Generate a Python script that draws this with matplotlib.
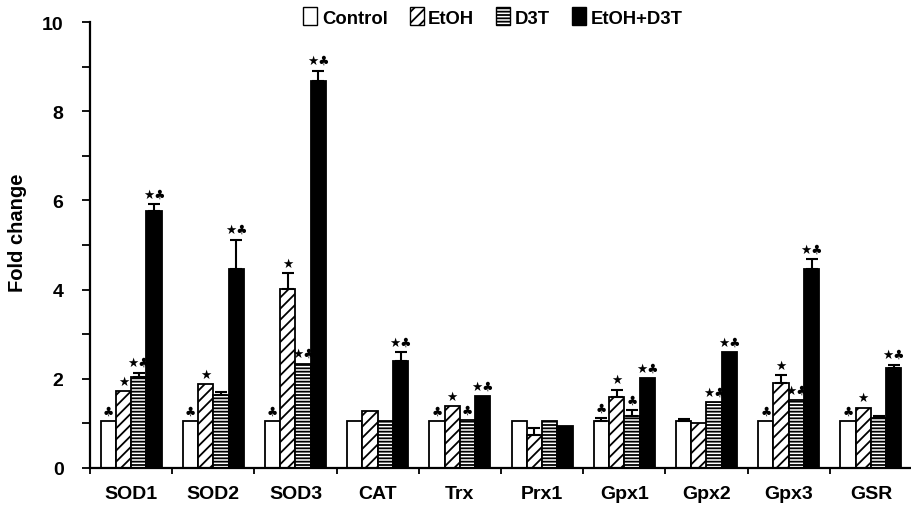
import matplotlib
matplotlib.use("Agg")
import matplotlib.pyplot as plt
import numpy as np
from matplotlib.patches import Patch

plt.rcParams['font.family'] = ['Liberation Sans', 'DejaVu Sans']
plt.rcParams['font.weight'] = 'bold'
plt.rcParams['hatch.linewidth'] = 1.3

categories = ["SOD1", "SOD2", "SOD3", "CAT", "Trx", "Prx1", "Gpx1", "Gpx2", "Gpx3", "GSR"]
series_names = ["Control", "EtOH", "D3T", "EtOH+D3T"]

control = [1.05, 1.05, 1.05, 1.05, 1.05, 1.05, 1.05, 1.05, 1.05, 1.05]
etoh = [1.72, 1.88, 4.02, 1.27, 1.39, 0.73, 1.59, 1.00, 1.91, 1.35]
d3t = [2.04, 1.63, 2.34, 1.05, 1.07, 1.05, 1.17, 1.48, 1.52, 1.12]
etoh_d3t = [5.77, 4.47, 8.67, 2.41, 1.61, 0.94, 2.02, 2.59, 4.47, 2.25]

control_err = [0, 0, 0, 0, 0, 0, 0.07, 0.05, 0, 0]
etoh_err = [0, 0, 0.35, 0, 0, 0.17, 0.17, 0, 0.17, 0]
d3t_err = [0.10, 0.08, 0, 0, 0, 0, 0.12, 0, 0, 0.04]
etoh_d3t_err = [0.14, 0.65, 0.24, 0.19, 0, 0, 0, 0, 0.21, 0.07]

control_sig = ["♣", "♣", "♣", "", "♣", "", "♣", "", "♣", "♣"]
etoh_sig = ["★", "★", "★", "", "★", "", "★", "", "★", "★"]
d3t_sig = ["★♣", "", "★♣", "", "♣", "", "♣", "★♣", "★♣", ""]
etoh_d3t_sig = ["★♣"] * 5 + [""] + ["★♣"] * 4

values = [control, etoh, d3t, etoh_d3t]
errors = [control_err, etoh_err, d3t_err, etoh_d3t_err]
sigs = [control_sig, etoh_sig, d3t_sig, etoh_d3t_sig]
faces = ["white", "white", "white", "black"]
hatches = [None, "///", "-----", None]

fig = plt.figure(figsize=(9.12, 5.06), dpi=100)
ax = fig.add_axes([90/912, 37/506, 1 - 90/912, (469-23)/506])

n = len(categories)
x = np.arange(n) + 0.5
w = 0.186
offsets = [-1.5*w, -0.5*w, 0.5*w, 1.5*w]

for vals, errs, sg, fc, ht, off in zip(values, errors, sigs, faces, hatches, offsets):
    xs = x + off
    ax.bar(xs, vals, width=w, facecolor=fc, edgecolor="black", linewidth=1.3,
           hatch=ht, zorder=2)
    errs = np.array(errs)
    m = errs > 0
    ax.errorbar(xs[m], np.array(vals)[m], yerr=[np.zeros(m.sum()), errs[m]],
                fmt='none', ecolor='black', elinewidth=1.5, capsize=4, capthick=1.5, zorder=3)
    for xi, v, e, s in zip(xs, vals, errs, sg):
        if s:
            ax.annotate(s, (xi, v + e), xytext=(0, 2.5), textcoords='offset points',
                        ha='center', va='bottom', fontsize=9,
                        family=['DejaVu Sans'])

ax.set_xlim(0, (912-90)/83.3)
ax.set_ylim(0, 10)
ax.spines['top'].set_visible(False)
ax.spines['right'].set_visible(False)
ax.spines['left'].set_linewidth(1.6)
ax.spines['bottom'].set_linewidth(1.6)

ax.set_yticks([0, 2, 4, 6, 8, 10])
ax.set_yticks([1, 3, 5, 7, 9], minor=True)
ax.tick_params(axis='y', which='both', direction='out', length=6, width=1.3,
               labelsize=14, pad=13)
ax.set_xticks(np.arange(0, 11))
ax.set_xticklabels([])
ax.set_xticks(x, minor=True)
ax.set_xticklabels(categories, minor=True)
ax.tick_params(axis='x', which='major', direction='out', length=4, width=1.3)
ax.tick_params(axis='x', which='minor', length=0, labelsize=14, pad=12)
for lbl in ax.get_xticklabels(minor=True) + ax.get_yticklabels():
    lbl.set_fontweight('bold')

ax.set_ylabel("Fold change", fontsize=14.5, fontweight='bold')
ax.yaxis.set_label_coords(-63/822, (469-233)/446)

handles = [Patch(facecolor=fc, edgecolor='black', hatch=ht, linewidth=1.0)
           for fc, ht in zip(faces, hatches)]
fig.legend(handles, series_names, loc='center', bbox_to_anchor=(493/912, 1 - 18/506),
           ncol=4, frameon=False, handlelength=0.75, handleheight=1.1,
           handletextpad=0.25, columnspacing=1.2,
           prop={'weight': 'bold', 'size': 13.3})

fig.savefig("out.png", dpi=100)
